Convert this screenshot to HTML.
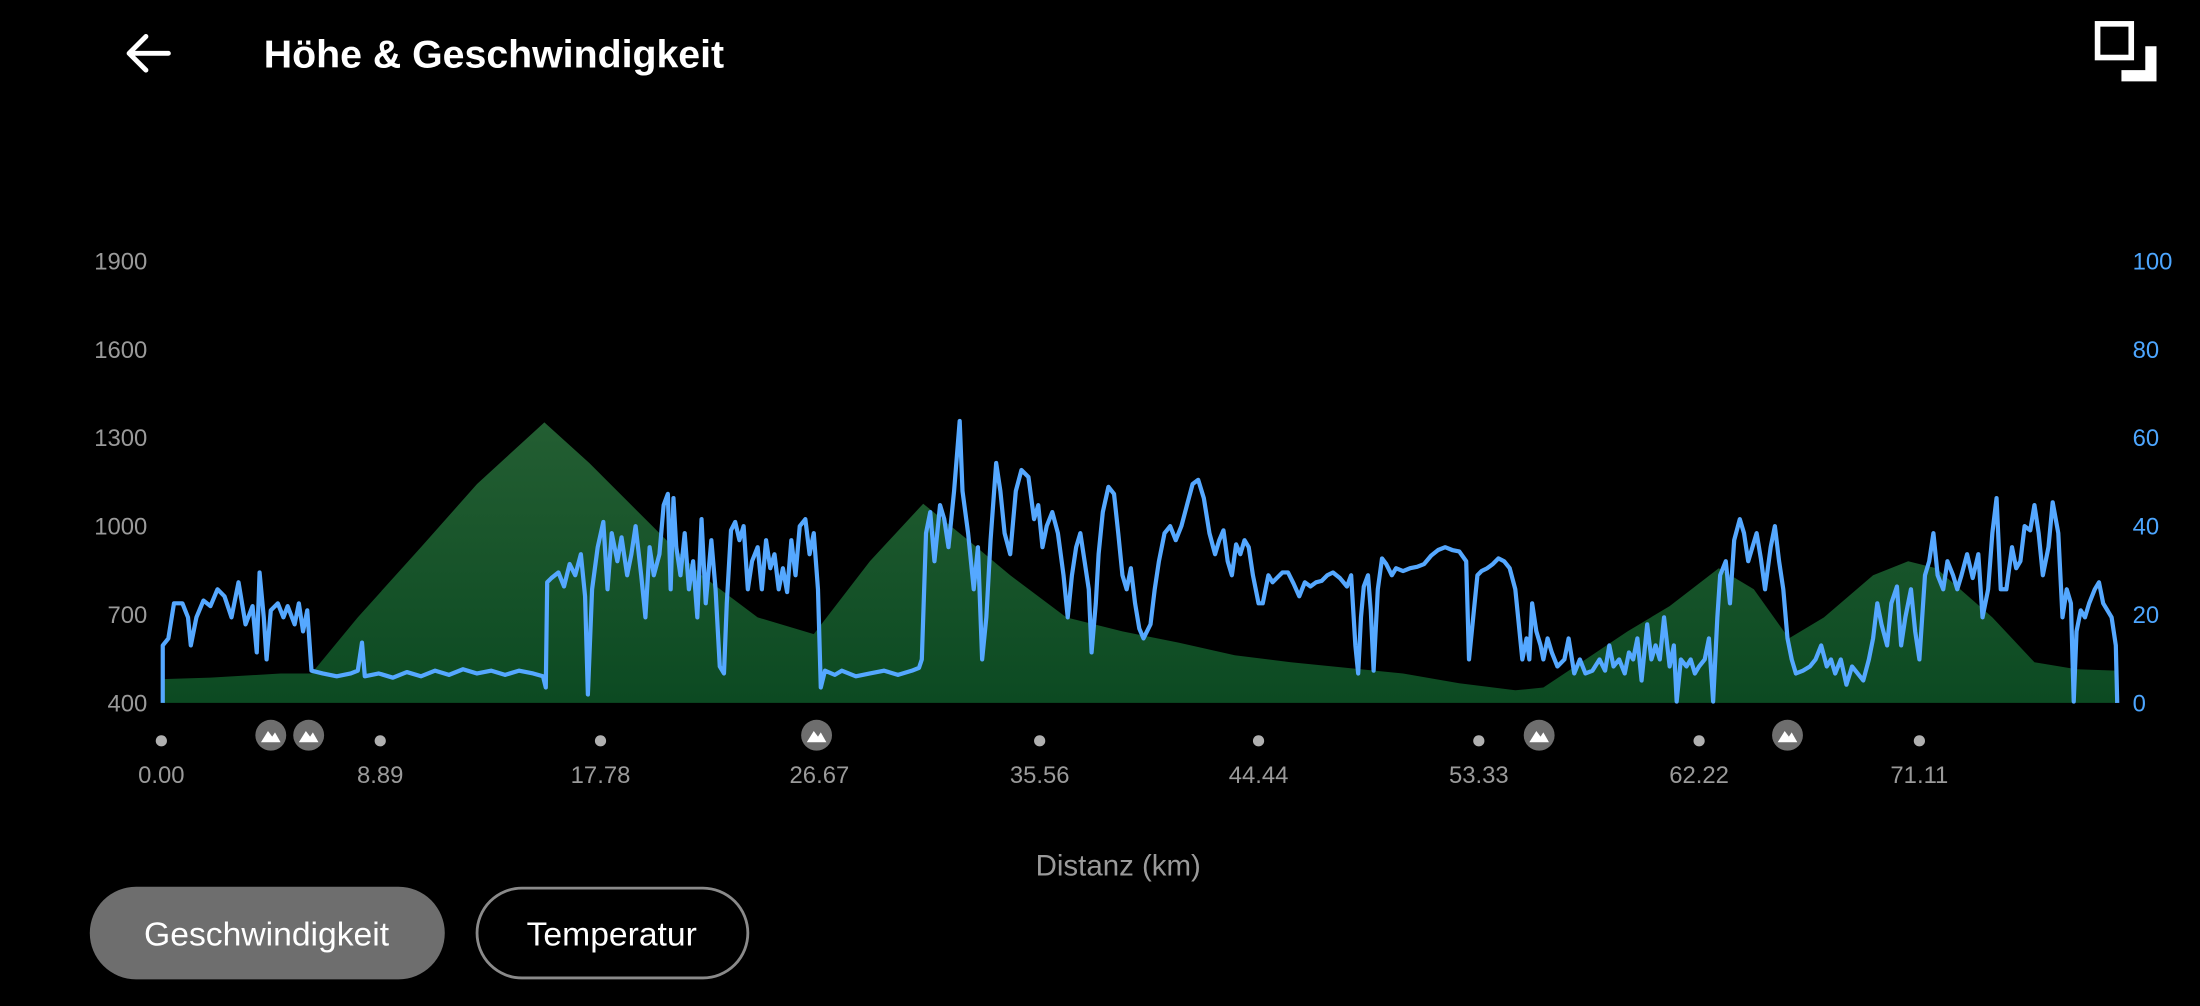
<!DOCTYPE html>
<html><head><meta charset="utf-8"><style>
html,body{margin:0;padding:0;background:#000;width:2200px;height:1006px;overflow:hidden}
svg{display:block}
text{font-family:"Liberation Sans",sans-serif}
</style></head><body>
<svg width="2200" height="1006" viewBox="0 0 1568 717" xmlns="http://www.w3.org/2000/svg">
<defs><linearGradient id="g" x1="0" y1="0" x2="0" y2="1"><stop offset="0" stop-color="#235e32"/><stop offset="1" stop-color="#0c4a22"/></linearGradient></defs>
<rect width="1568" height="717" fill="#000"/>
<!-- header -->
<path d="M92 38 H120 M92 38 L104 26 M92 38 L104 50" stroke="#fff" stroke-width="3.5" fill="none" stroke-linecap="round" stroke-linejoin="round"/>
<text x="188" y="48" fill="#fff" font-size="28" font-weight="bold">Höhe &amp; Geschwindigkeit</text>
<rect x="1495" y="17" width="24" height="24" fill="none" stroke="#fff" stroke-width="4"/>
<path d="M1512 50 H1529 V33 H1537 V58 H1512 Z" fill="#fff"/>
<!-- axes labels -->
<g fill="#9a9a9a" font-size="17" text-anchor="end">
<text x="105" y="192">1900</text><text x="105" y="255">1600</text><text x="105" y="318">1300</text>
<text x="105" y="381">1000</text><text x="105" y="444">700</text><text x="105" y="507">400</text></g>
<g fill="#4da6ff" font-size="17">
<text x="1520" y="192">100</text><text x="1520" y="255">80</text><text x="1520" y="318">60</text>
<text x="1520" y="381">40</text><text x="1520" y="444">20</text><text x="1520" y="507">0</text></g>
<!-- elevation -->
<polygon fill="url(#g)" points="116,484 150,483 200,480 222,480 255,440 300,390 340,345 388,301 420,330 460,370 500,410 540,440 580,452 620,400 658,359 690,385 720,410 760,440 800,450 840,458 880,467 920,472 960,476 1000,480 1040,487 1080,492 1100,490 1130,470 1160,450 1190,432 1225,405 1250,420 1275,455 1300,440 1335,410 1360,400 1380,405 1420,440 1450,472 1480,477 1508,478 1508,501 116,501"/>
<!-- speed -->
<polyline fill="none" stroke="#55a8ff" stroke-width="3" stroke-linejoin="round" points="116,501 116,460 120,455 124,430 130,430 134,440 136,460 140,440 145,428 150,432 155,420 160,425 165,440 170,415 175,445 180,432 183,465 185,408 188,440 190,470 193,435 198,430 202,440 205,432 210,445 213,430 216,450 219,435 222,478 230,480 240,482 250,480 255,478 258,458 260,482 270,480 280,483 290,479 300,482 310,478 320,481 330,477 340,480 350,478 360,481 370,478 380,480 387,482 389,490 390,415 393,412 398,408 402,418 406,402 410,410 414,395 417,425 419,495 422,420 426,390 430,372 433,420 436,380 440,400 443,383 447,410 450,395 453,375 457,410 460,440 463,390 466,410 470,395 473,360 476,352 478,420 480,355 482,390 485,410 488,380 491,420 494,400 497,440 500,370 503,430 507,385 510,420 513,475 516,480 518,430 521,378 524,372 527,385 530,375 533,420 536,400 540,390 543,420 546,385 549,405 552,395 555,420 558,405 561,422 564,385 567,410 570,375 574,370 577,395 580,380 583,420 585,490 588,478 595,481 600,478 610,482 620,480 630,478 640,481 650,478 655,476 657,470 660,380 663,365 666,400 670,360 673,370 676,390 680,350 684,300 686,350 690,380 694,420 697,390 700,470 703,440 706,385 710,330 713,350 716,380 720,395 724,350 728,335 733,340 737,370 740,360 743,390 746,375 750,365 754,380 758,410 761,440 764,410 767,390 770,380 773,400 776,420 778,465 781,430 783,395 786,365 790,347 794,352 797,380 800,410 803,420 806,405 809,430 812,448 815,455 820,445 823,420 826,400 830,380 834,375 838,385 842,375 846,360 850,345 854,342 858,355 862,380 866,395 869,385 872,378 875,400 878,410 881,388 884,395 887,385 890,390 893,410 897,430 900,430 904,410 907,415 910,412 914,408 918,408 922,416 926,425 930,415 934,418 938,415 942,414 946,410 950,408 955,412 960,418 963,410 966,460 968,480 970,440 972,418 975,410 977,435 979,478 982,420 985,398 988,402 992,410 995,405 1000,407 1005,405 1010,404 1015,402 1020,396 1025,392 1030,390 1035,392 1040,393 1045,400 1047,470 1050,440 1053,410 1056,407 1060,405 1064,402 1068,398 1072,400 1076,405 1080,420 1082,440 1085,470 1088,455 1090,470 1092,430 1095,450 1098,460 1100,470 1103,455 1106,465 1110,475 1115,470 1118,455 1122,480 1126,470 1130,480 1135,478 1140,470 1144,478 1147,460 1150,475 1154,470 1158,480 1161,465 1164,470 1167,455 1170,485 1174,445 1177,470 1180,460 1183,470 1186,440 1190,475 1193,460 1195,500 1198,470 1202,475 1205,470 1208,480 1211,475 1215,470 1218,455 1221,500 1224,440 1226,410 1230,400 1233,430 1236,385 1240,370 1243,380 1246,400 1249,390 1252,380 1255,398 1258,420 1260,405 1262,390 1265,375 1268,400 1271,420 1274,455 1277,470 1280,480 1285,478 1290,475 1294,470 1298,460 1302,475 1305,470 1308,480 1312,470 1316,488 1320,475 1324,480 1328,485 1332,470 1335,455 1338,430 1341,445 1345,460 1348,430 1352,418 1355,460 1358,440 1362,420 1365,450 1368,470 1372,410 1375,400 1378,380 1381,410 1385,420 1388,400 1392,410 1395,420 1398,410 1402,395 1406,412 1410,395 1413,440 1417,420 1420,380 1423,355 1426,420 1430,420 1434,390 1437,405 1440,400 1443,375 1447,378 1450,360 1453,380 1456,410 1460,390 1463,358 1467,380 1470,440 1473,420 1476,430 1478,500 1480,450 1483,435 1486,440 1489,430 1493,420 1496,415 1499,430 1502,435 1505,440 1508,460 1509,501"/>
<!-- markers -->
<g fill="#b0b0b0"><circle cx="115" cy="528" r="4"/><circle cx="271" cy="528" r="4"/><circle cx="428" cy="528" r="4"/><circle cx="741" cy="528" r="4"/><circle cx="897" cy="528" r="4"/><circle cx="1054" cy="528" r="4"/><circle cx="1211" cy="528" r="4"/><circle cx="1368" cy="528" r="4"/></g>
<g>
<circle cx="193" cy="524" r="11" fill="#6e6e6e"/><path d="M186 529 L191 521 L194 525 L196 522 L200 529 Z" fill="#fff"/>
<circle cx="220" cy="524" r="11" fill="#6e6e6e"/><path d="M213 529 L218 521 L221 525 L223 522 L227 529 Z" fill="#fff"/>
<circle cx="582" cy="524" r="11" fill="#6e6e6e"/><path d="M575 529 L580 521 L583 525 L585 522 L589 529 Z" fill="#fff"/>
<circle cx="1097" cy="524" r="11" fill="#6e6e6e"/><path d="M1090 529 L1095 521 L1098 525 L1100 522 L1104 529 Z" fill="#fff"/>
<circle cx="1274" cy="524" r="11" fill="#6e6e6e"/><path d="M1267 529 L1272 521 L1275 525 L1277 522 L1281 529 Z" fill="#fff"/>
</g>
<g fill="#9a9a9a" font-size="17" text-anchor="middle">
<text x="115" y="558">0.00</text><text x="271" y="558">8.89</text><text x="428" y="558">17.78</text><text x="584" y="558">26.67</text><text x="741" y="558">35.56</text><text x="897" y="558">44.44</text><text x="1054" y="558">53.33</text><text x="1211" y="558">62.22</text><text x="1368" y="558">71.11</text>
<text x="797" y="624" font-size="21">Distanz (km)</text></g>
<!-- buttons -->
<rect x="64" y="632" width="253" height="66" rx="33" fill="#6e6e6e"/>
<text x="190" y="674" fill="#fff" font-size="24" text-anchor="middle">Geschwindigkeit</text>
<rect x="340" y="633" width="193" height="64" rx="32" fill="none" stroke="#8a8a8a" stroke-width="2"/>
<text x="436" y="674" fill="#fff" font-size="24" text-anchor="middle">Temperatur</text>
</svg>
</body></html>
